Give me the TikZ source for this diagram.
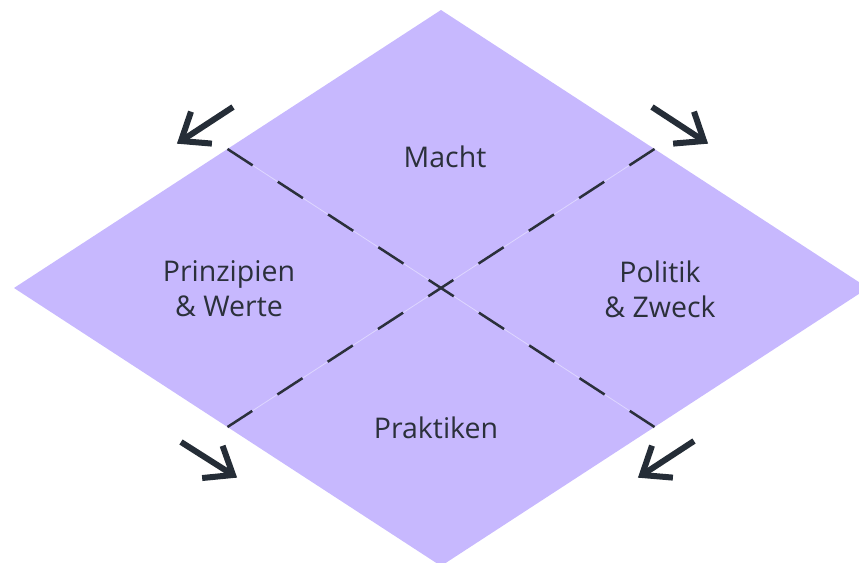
\documentclass[tikz,border=0pt]{standalone}
\usepackage{fontspec}
\setmainfont{Open Sans}
\usetikzlibrary{calc}
\definecolor{lav}{RGB}{199,184,254}
\definecolor{lavline}{RGB}{222,214,255}
\definecolor{ink}{RGB}{43,48,59}
\definecolor{arrowink}{RGB}{37,45,55}
\tikzset{
  label text/.style={font=\fontsize{28.5}{35}\selectfont, text=ink, inner sep=0pt, align=center},
  divider/.style={draw=ink, line width=2.5pt, dash pattern=on 30pt off 30pt},
  faint/.style={draw=lavline, line width=0.8pt},
  bigarrow/.style={draw=arrowink, line width=6pt, line join=miter, line cap=butt},
}
\begin{document}
\begin{tikzpicture}[x=1pt,y=-1pt]
\useasboundingbox (0,0) rectangle (859,562);
\clip (0,0) rectangle (859,562);
% diamond
\coordinate (top) at (441,10);
\coordinate (left) at (14,288);
\coordinate (bottom) at (441,566);
\coordinate (right) at (868,288);
\fill[lav] (top) -- (right) -- (bottom) -- (left) -- cycle;
% dividers
\coordinate (ul) at ($(top)!0.5!(left)$);
\coordinate (lr) at ($(bottom)!0.5!(right)$);
\coordinate (ur) at ($(top)!0.5!(right)$);
\coordinate (ll) at ($(bottom)!0.5!(left)$);
\path[faint] (ul) -- (lr);
\path[faint] (ur) -- (ll);
\path[divider] (ul) -- (lr);
\path[divider] (ur) -- (ll);
% labels
\node[label text, anchor=base] (macht) at (445,167) {Macht};
\node[label text] (prinz) at (229,289) {Prinzipien\\\& Werte};
\node[label text] (politik) at (660,289) {Politik\\\& Zweck};
\node[label text, anchor=base] (prakt) at (436,438) {Praktiken};
% arrows
\foreach \n/\sx/\sy/\tx/\ty in {tl/233/107/181/141, tr/652/107/704/141, bl/181/442/233/475, br/694/441/642/475}{
  \coordinate (s\n) at (\sx,\sy);
  \coordinate (t\n) at (\tx,\ty);
  \coordinate (a\n) at ($(t\n)!31pt!38:(s\n)$);
  \coordinate (b\n) at ($(t\n)!31pt!-38:(s\n)$);
  \path[bigarrow] (s\n) -- (t\n);
  \path[bigarrow] (a\n) -- (t\n) -- (b\n);
}
\end{tikzpicture}
\end{document}
